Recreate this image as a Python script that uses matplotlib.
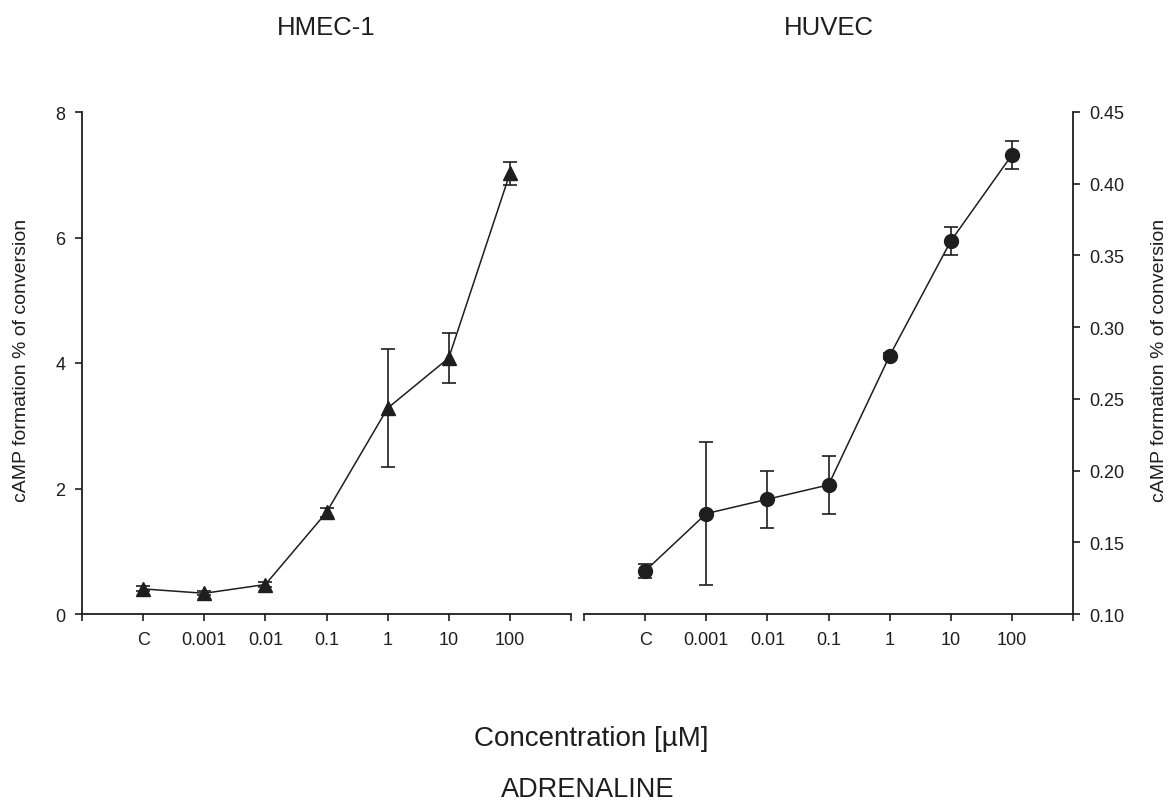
import matplotlib
matplotlib.use("Agg")
import matplotlib.pyplot as plt

plt.rcParams['font.family'] = ['Liberation Sans', 'DejaVu Sans']

# x positions: C plus six concentrations
conc_labels = ['C', '0.001', '0.01', '0.1', '1', '10', '100']
xpos = list(range(len(conc_labels)))

# HMEC-1 cAMP formation (% of conversion)
hmec_mean = [0.40, 0.33, 0.47, 1.62, 3.28, 4.08, 7.02]
hmec_err = [0.04, 0.03, 0.04, 0.07, 0.94, 0.40, 0.19]

# HUVEC cAMP formation (% of conversion)
huvec_mean = [0.13, 0.17, 0.18, 0.19, 0.28, 0.36, 0.42]
huvec_err = [0.005, 0.05, 0.02, 0.02, 0.002, 0.01, 0.01]

W, H = 1172, 804
fig = plt.figure(figsize=(W / 100, H / 100), dpi=100)
ink = '#1e1e1e'

def px_box(x0, x1, ytop, ybot):
    return [x0 / W, 1 - ybot / H, (x1 - x0) / W, (ybot - ytop) / H]

ax1 = fig.add_axes(px_box(82, 571, 113, 615))
ax2 = fig.add_axes(px_box(584, 1073, 113, 615))

tick_pos = list(range(-1, 8))
tick_lab = [''] + conc_labels + ['']

for ax in (ax1, ax2):
    ax.set_xlim(-1, 7)
    ax.set_xticks(tick_pos)
    ax.set_xticklabels(tick_lab)
    ax.spines['top'].set_visible(False)
    for s in ax.spines.values():
        s.set_linewidth(1.3)
        s.set_color(ink)
    ax.tick_params(axis='both', direction='out', length=5, width=1.2,
                   colors=ink, labelsize=13)
    ax.tick_params(axis='x', pad=7)

# left panel
ax1.spines['right'].set_visible(False)
ax1.set_ylim(0, 8)
ax1.set_yticks([0, 2, 4, 6, 8])
ax1.tick_params(axis='y', pad=7)
ax1.errorbar(xpos, hmec_mean, yerr=hmec_err, fmt='-^', color=ink,
             ms=10, lw=1.1, elinewidth=1.2, capsize=5, capthick=1.2)

# right panel
ax2.spines['left'].set_visible(False)
ax2.set_ylim(0.10, 0.45)
ax2.yaxis.tick_right()
ax2.set_yticks([0.10, 0.15, 0.20, 0.25, 0.30, 0.35, 0.40, 0.45])
ax2.set_yticklabels(['%.2f' % v for v in ax2.get_yticks()])
ax2.tick_params(axis='y', pad=7)
ax2.errorbar(xpos, huvec_mean, yerr=huvec_err, fmt='-o', color=ink,
             ms=10, lw=1.1, elinewidth=1.2, capsize=5, capthick=1.2)

# texts
fig.text(326.5 / W, 1 - 35 / H, 'HMEC-1', ha='center', va='baseline',
         fontsize=18.5, color=ink)
fig.text(828.5 / W, 1 - 35 / H, 'HUVEC', ha='center', va='baseline',
         fontsize=18.5, color=ink)
ylab = 'cAMP formation % of conversion'
fig.text(22 / W, 1 - 360 / H, ylab, rotation=90, ha='center', va='center',
         fontsize=14, color=ink)
fig.text(1160 / W, 1 - 360 / H, ylab, rotation=90, ha='center', va='center',
         fontsize=14, color=ink)
fig.text(591 / W, 1 - 746 / H, 'Concentration [µM]', ha='center',
         va='baseline', fontsize=20, color=ink)
fig.text(588 / W, 1 - 797 / H, 'ADRENALINE', ha='center', va='baseline',
         fontsize=19.5, color=ink)

fig.savefig('out.png', dpi=100)
